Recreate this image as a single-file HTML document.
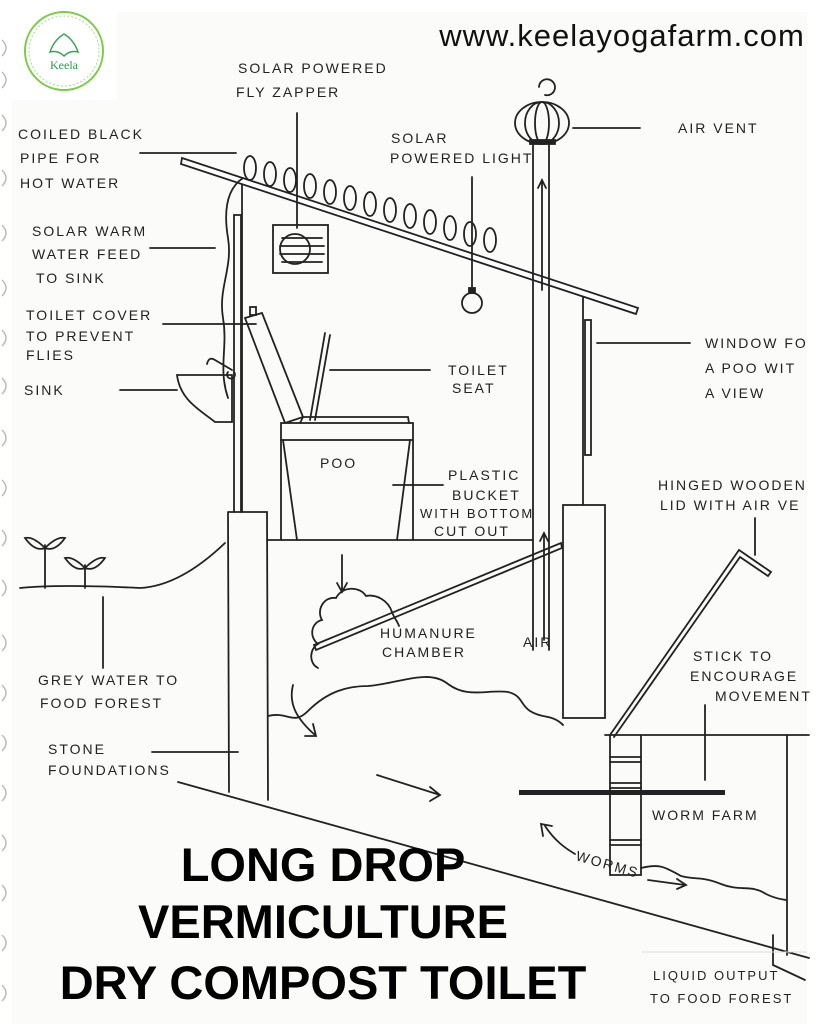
<!DOCTYPE html>
<html><head><meta charset="utf-8"><style>
html,body{margin:0;padding:0;background:#fff}
svg{display:block}
.t{font-family:"Liberation Sans",sans-serif;font-size:14px;letter-spacing:2px;fill:#222}
.ti{font-family:"Liberation Sans",sans-serif;font-weight:bold;font-size:47px;fill:#000;text-anchor:middle}
</style></head><body>
<svg width="819" height="1024" viewBox="0 0 819 1024" xmlns="http://www.w3.org/2000/svg">
<rect width="819" height="1024" fill="#fff"/>
<rect x="12" y="12" width="795" height="1012" fill="#fbfbf9"/>
<g fill="none" stroke="#bbb" stroke-width="1.5">
<path d="M2 40 q8 8 0 16"/><path d="M2 72 q8 8 0 16"/><path d="M2 115 q8 8 0 16"/><path d="M2 170 q8 8 0 16"/><path d="M2 225 q8 8 0 16"/><path d="M2 280 q8 8 0 16"/><path d="M2 330 q8 8 0 16"/><path d="M2 378 q8 8 0 16"/><path d="M2 430 q8 8 0 16"/><path d="M2 480 q8 8 0 16"/><path d="M2 530 q8 8 0 16"/><path d="M2 580 q8 8 0 16"/><path d="M2 635 q8 8 0 16"/><path d="M2 685 q8 8 0 16"/><path d="M2 735 q8 8 0 16"/><path d="M2 785 q8 8 0 16"/><path d="M2 835 q8 8 0 16"/><path d="M2 885 q8 8 0 16"/><path d="M2 935 q8 8 0 16"/><path d="M2 985 q8 8 0 16"/>
</g>
<rect x="12" y="10" width="105" height="90" fill="#fff"/>
<circle cx="64" cy="51" r="39" fill="none" stroke="#7ccc4a" stroke-width="2"/>
<circle cx="64" cy="51" r="35" fill="none" stroke="#a8dc88" stroke-width="1" stroke-dasharray="2 2"/>
<path d="M64 34 q-10 6 -14 18 q8 -2 14 4 q6 -6 14 -4 q-4 -12 -14 -18z" fill="none" stroke="#3aa655" stroke-width="1.5"/>
<text x="64" y="69" font-family="Liberation Serif,serif" font-size="12" fill="#2e9a4f" text-anchor="middle">Keela</text>
<text x="622" y="46" font-family="Liberation Sans,sans-serif" font-size="31" letter-spacing="1" fill="#111" text-anchor="middle">www.keelayogafarm.com</text>

<g fill="none" stroke="#222" stroke-width="1.8" stroke-linecap="round">
<path d="M182 158 L638 308 L636 314 L181 164 Z" fill="#fff"/>
<g>
<ellipse cx="250" cy="168" rx="6" ry="12"/>
<ellipse cx="270" cy="174" rx="6" ry="12"/>
<ellipse cx="290" cy="180" rx="6" ry="12"/>
<ellipse cx="310" cy="186" rx="6" ry="12"/>
<ellipse cx="330" cy="192" rx="6" ry="12"/>
<ellipse cx="350" cy="198" rx="6" ry="12"/>
<ellipse cx="370" cy="204" rx="6" ry="12"/>
<ellipse cx="390" cy="210" rx="6" ry="12"/>
<ellipse cx="410" cy="216" rx="6" ry="12"/>
<ellipse cx="430" cy="222" rx="6" ry="12"/>
<ellipse cx="450" cy="228" rx="6" ry="12"/>
<ellipse cx="470" cy="234" rx="6" ry="12"/>
<ellipse cx="490" cy="240" rx="6" ry="12"/>
</g>
<path d="M243 178 c-15 10 -20 30 -15 60 c5 30 -10 50 -5 80 c5 30 -5 50 5 80"/>
<line x1="234" y1="215" x2="234" y2="512"/><line x1="241" y1="215" x2="241" y2="512"/>
<line x1="234" y1="215" x2="241" y2="215"/>
<line x1="242" y1="185" x2="242" y2="512"/>
<rect x="273" y="225" width="55" height="48"/><circle cx="295" cy="249" r="15"/>
<line x1="282" y1="238" x2="322" y2="238"/><line x1="280" y1="246" x2="324" y2="246"/><line x1="280" y1="254" x2="324" y2="254"/><line x1="282" y1="262" x2="322" y2="262"/>
<line x1="297" y1="113" x2="297" y2="228"/>
<line x1="472" y1="177" x2="472" y2="290"/><circle cx="472" cy="303" r="10"/><rect x="469" y="288" width="6" height="5" fill="#222"/>
<line x1="533" y1="142" x2="533" y2="650"/><line x1="549" y1="142" x2="549" y2="650"/>
<ellipse cx="542" cy="123" rx="27" ry="21"/><ellipse cx="542" cy="123" rx="17" ry="21"/><ellipse cx="542" cy="123" rx="7" ry="21"/>
<rect x="530" y="140" width="25" height="4" fill="#222"/>
<path d="M542 180 L542 290 M538 188 L542 180 L546 188"/>
<path d="M545 95 a8 8 0 1 0 -6 -8"/>
<line x1="583" y1="297" x2="583" y2="505"/>
<rect x="585" y="320" width="6" height="135"/>
<path d="M228 512 L267 512 L268 800 M228 512 L229 792"/>
<rect x="563" y="505" width="42" height="213"/>
<line x1="267" y1="540" x2="533" y2="540"/>
<rect x="281" y="423" width="132" height="17"/>
<path d="M281 440 L281 540 M413 440 L413 540 M283 440 L297 540 M410 440 L397 540"/>
<path d="M300 423 L303 417 L408 417 L409 423"/>
<path d="M245 318 L262 313 L303 417 L285 423 Z"/><rect x="250" y="307" width="6" height="8"/>
<path d="M325 333 L310 420 M330 335 L315 420"/>
<path d="M177 375 L232 375 L232 422 L215 422 C200 410 180 400 177 375 Z"/>
<path d="M232 370 L215 360 q-6 -4 -8 4 M228 372 a4 4 0 1 0 6 0"/>
<path d="M20 588 q40 -4 120 0 q40 -2 85 -45"/>
<line x1="178" y1="782" x2="809" y2="958"/>
<path d="M45 588 V545 M45 548 q-12 -12 -20 -10 q10 14 20 10 q12 -12 20 -10 q-10 14 -20 10 M85 588 V565 M85 568 q-12 -12 -20 -10 q10 14 20 10 q12 -12 20 -10 q-10 14 -20 10"/>
<path d="M314 645 L561 543 L562 548 L316 650 Z"/>
<path d="M318 668 c-10 -5 -8 -20 0 -24 c-10 -8 -6 -22 4 -24 c-6 -10 2 -24 14 -22 c6 -12 24 -12 30 -2 c10 -2 22 4 26 16 c2 6 6 10 7 14"/>
<path d="M268 716 c20 -5 25 10 40 -5 c20 -20 40 -25 60 -25 c30 -2 60 -18 80 -2 c20 15 40 5 60 8 c20 5 8 20 40 25 c10 2 15 8 15 8"/>
<path d="M342 555 V590 M337 583 L342 592 L347 583"/>
<path d="M293 685 c-5 20 5 35 22 50 M305 736 L316 736 L313 724"/>
<path d="M377 775 L440 795 M430 787 L440 795 L430 801"/>
<path d="M544 640 V533 M540 541 L544 533 L548 541"/>
<path d="M610 735 L739 550 L771 572 L768 576 L740 557 L614 737"/>
<path d="M605 735 L809 735 M787 735 L787 955 M610 735 L610 875 L641 875 L641 735"/>
<line x1="610" y1="757" x2="641" y2="757"/><line x1="610" y1="762" x2="641" y2="762"/><line x1="610" y1="783" x2="641" y2="783"/><line x1="610" y1="788" x2="641" y2="788"/><line x1="610" y1="840" x2="641" y2="840"/><line x1="610" y1="845" x2="641" y2="845"/>
<path d="M641 868 c20 -5 25 0 40 8 c15 4 20 0 40 8 c20 8 30 0 45 10 c10 5 15 5 20 6"/>
<path d="M773 935 V965 L805 980"/>
<path d="M545 826 c10 15 20 22 30 28 M543 836 L541 824 L552 826"/>
<path d="M648 880 L685 885 M677 879 L686 885 L677 889"/>
<line x1="140" y1="153" x2="236" y2="153"/>
<line x1="150" y1="248" x2="215" y2="248"/>
<line x1="163" y1="324" x2="256" y2="324"/>
<line x1="120" y1="390" x2="177" y2="390"/>
<line x1="330" y1="370" x2="430" y2="370"/>
<line x1="393" y1="485" x2="443" y2="485"/>
<line x1="573" y1="128" x2="640" y2="128"/>
<line x1="597" y1="343" x2="690" y2="343"/>
<line x1="755" y1="518" x2="755" y2="555"/>
<line x1="705" y1="705" x2="705" y2="780"/>
<line x1="103" y1="597" x2="103" y2="668"/>
<line x1="152" y1="752" x2="238" y2="752"/>
</g>
<rect x="519" y="790" width="206" height="5" fill="#222"/>
<line x1="642" y1="952" x2="807" y2="952" stroke="#ddd"/>

<g class="t">
<text x="238" y="73">SOLAR POWERED</text>
<text x="236" y="97">FLY ZAPPER</text>
<text x="18" y="139">COILED BLACK</text>
<text x="20" y="163">PIPE FOR</text>
<text x="20" y="188">HOT WATER</text>
<text x="391" y="143">SOLAR</text>
<text x="390" y="163">POWERED LIGHT</text>
<text x="678" y="133">AIR VENT</text>
<text x="32" y="236">SOLAR WARM</text>
<text x="32" y="259">WATER FEED</text>
<text x="36" y="283">TO SINK</text>
<text x="26" y="320">TOILET COVER</text>
<text x="26" y="341">TO PREVENT</text>
<text x="26" y="360">FLIES</text>
<text x="24" y="395">SINK</text>
<text x="448" y="375">TOILET</text>
<text x="452" y="393">SEAT</text>
<text x="705" y="348">WINDOW FO</text>
<text x="705" y="373">A POO WIT</text>
<text x="705" y="398">A VIEW</text>
<text x="320" y="468">POO</text>
<text x="448" y="480">PLASTIC</text>
<text x="452" y="500">BUCKET</text>
<text x="420" y="518" style="font-size:13px">WITH BOTTOM</text>
<text x="434" y="536">CUT OUT</text>
<text x="658" y="490">HINGED WOODEN</text>
<text x="660" y="510">LID WITH AIR VE</text>
<text x="380" y="638">HUMANURE</text>
<text x="382" y="657">CHAMBER</text>
<text x="523" y="647">AIR</text>
<text x="693" y="661">STICK TO</text>
<text x="690" y="681">ENCOURAGE</text>
<text x="715" y="701">MOVEMENT</text>
<text x="38" y="685">GREY WATER TO</text>
<text x="40" y="708">FOOD FOREST</text>
<text x="48" y="754">STONE</text>
<text x="48" y="775">FOUNDATIONS</text>
<text x="652" y="820">WORM FARM</text>
<text x="575" y="860" transform="rotate(16 575 860)">WORMS</text>
<text x="653" y="980" style="font-size:13px">LIQUID OUTPUT</text>
<text x="650" y="1003" style="font-size:13px">TO FOOD FOREST</text>
</g>
<text class="ti" x="323" y="881">LONG DROP</text>
<text class="ti" x="323" y="938">VERMICULTURE</text>
<text class="ti" x="323" y="999">DRY COMPOST TOILET</text>
</svg>
</body></html>
